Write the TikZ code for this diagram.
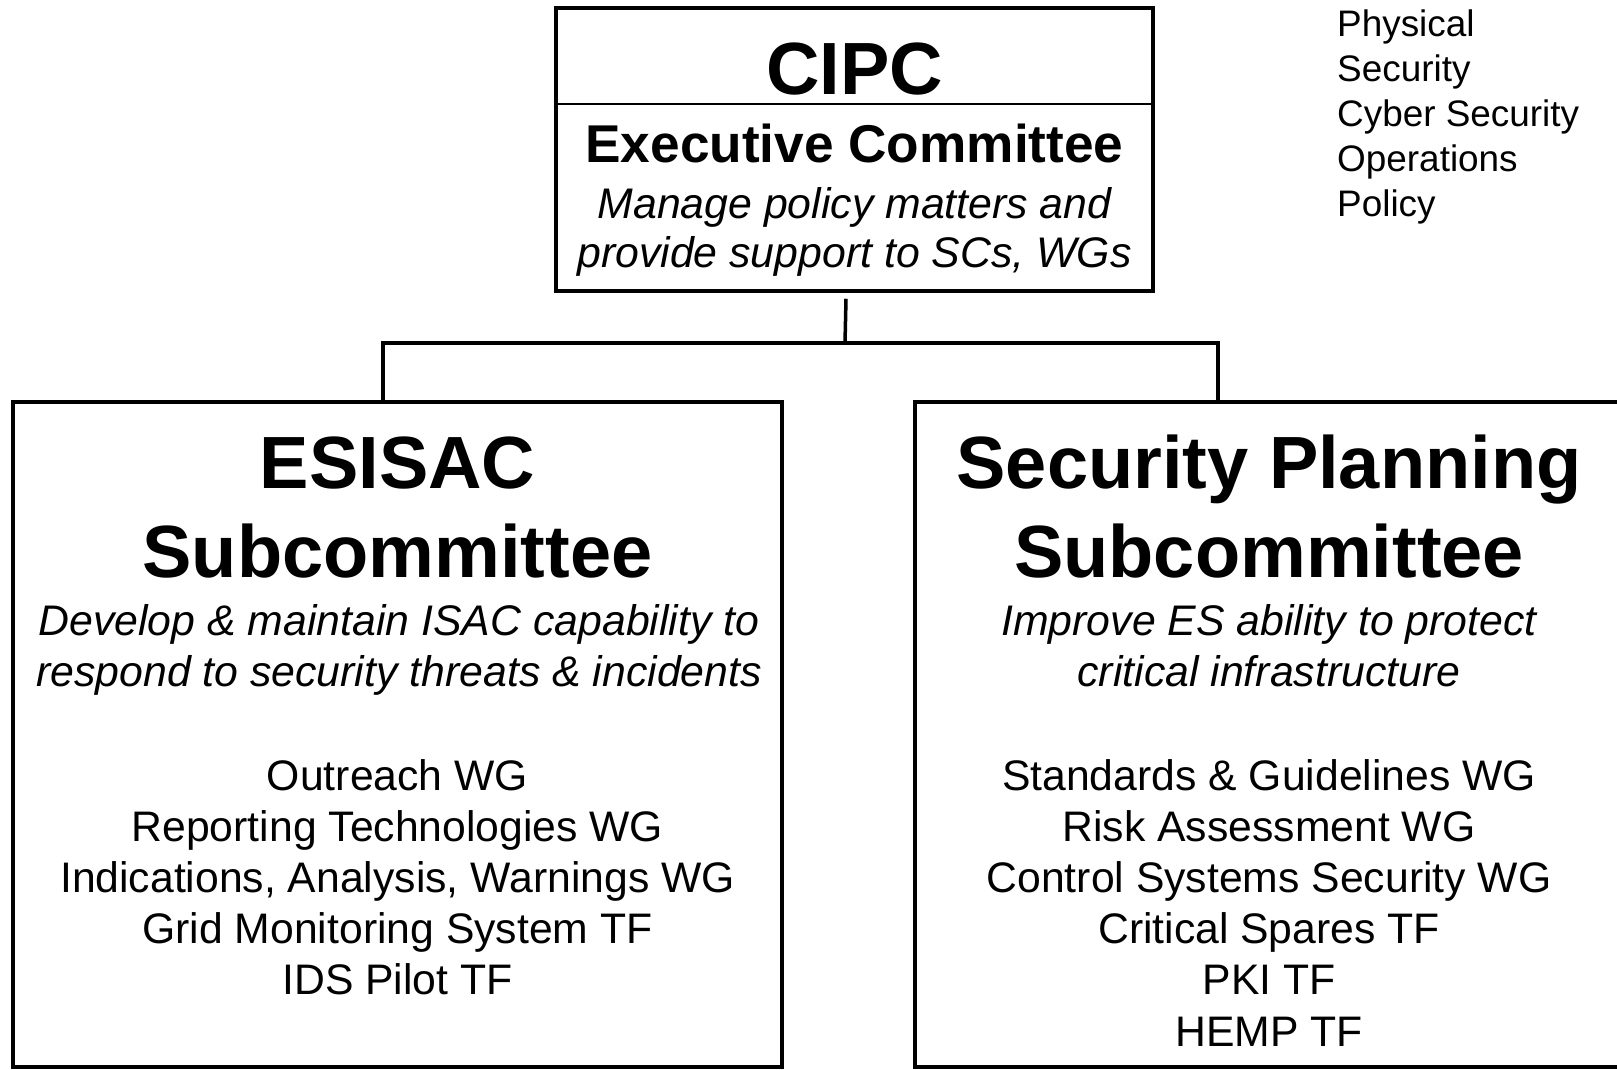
\documentclass[tikz,border=0pt]{standalone}
\usepackage{fontspec}
\setmainfont{Liberation Sans}
\usetikzlibrary{calc}

\tikzset{
  box/.style={draw, line width=3.5pt, inner sep=0pt},
  link/.style={line width=3.5pt},
  head/.style={font=\fontsize{74}{80}\selectfont\bfseries, anchor=base, inner sep=0pt},
  subhead/.style={font=\fontsize{53.2}{60}\selectfont\bfseries, anchor=base, inner sep=0pt},
  remit/.style={font=\fontsize{42.8}{48}\selectfont\itshape, anchor=base, inner sep=0pt},
  item/.style={font=\fontsize{42.7}{48}\selectfont, anchor=base, inner sep=0pt},
  topic/.style={font=\fontsize{36.9}{42}\selectfont, anchor=base west, inner sep=0pt}
}

\begin{document}
\begin{tikzpicture}[x=1pt, y=-1pt]
  \useasboundingbox (0,0) rectangle (1617,1070);

  % Top committee box
  \node[box, minimum width=597pt, minimum height=283pt] (cipc) at (854.5,149.5) {};
  \coordinate (divider) at (0,104);
  \draw[line width=2pt] (cipc.west |- divider) -- (cipc.east |- divider);
  \node[head] (cipctitle) at (854.5,95) {CIPC};
  \node[subhead] (exec) at (854.5,162) {Executive Committee};
  \node[remit] (execremit1) at (854.5,218) {Manage policy matters and};
  \node[remit] (execremit2) at (854.5,267) {provide support to SCs, WGs};

  % Topic list
  \foreach \txt [count=\i from 0] in {Physical, Security, Cyber Security, Operations, Policy}
    \node[topic] (topic\i) at (1337,37+44.9*\i) {\txt};

  % Subcommittee boxes
  \node[box, minimum width=769pt, minimum height=665pt] (esisac) at (397.5,734.5) {};
  \node[box, minimum width=708pt, minimum height=665pt] (spc) at (1269,734.5) {};

  % ESISAC
  \node[head] (esisactitle1) at (397.5,488) {ESISAC};
  \node[head] (esisactitle2) at (397.5,577.5) {Subcommittee};
  \node[remit] (esisacremit1) at (399,635) {Develop \& maintain ISAC capability to};
  \node[remit] (esisacremit2) at (399,686) {respond to security threats \& incidents};
  \foreach \txt [count=\i from 0] in {Outreach WG, Reporting Technologies WG,
      {Indications, Analysis, Warnings WG}, Grid Monitoring System TF, IDS Pilot TF}
    \node[item] (esisacwg\i) at (397.5,790+51.2*\i) {\txt};

  % Security Planning
  \node[head] (spctitle1) at (1269,488) {Security Planning};
  \node[head] (spctitle2) at (1269,577.5) {Subcommittee};
  \node[remit] (spcremit1) at (1269,635) {Improve ES ability to protect};
  \node[remit] (spcremit2) at (1269,686) {critical infrastructure};
  \foreach \txt [count=\i from 0] in {Standards \& Guidelines WG, Risk Assessment WG,
      Control Systems Security WG, Critical Spares TF, PKI TF, HEMP TF}
    \node[item] (spcwg\i) at (1269,790+51.2*\i) {\txt};

  % Connectors
  \coordinate (split) at (845,343);
  \draw[link] ([xshift=-8.5pt,yshift=-6pt]cipc.south) -- (split);
  \draw[link] ([xshift=-14.5pt]esisac.north) |- (split) -| ([xshift=-51pt]spc.north);
\end{tikzpicture}
\end{document}
